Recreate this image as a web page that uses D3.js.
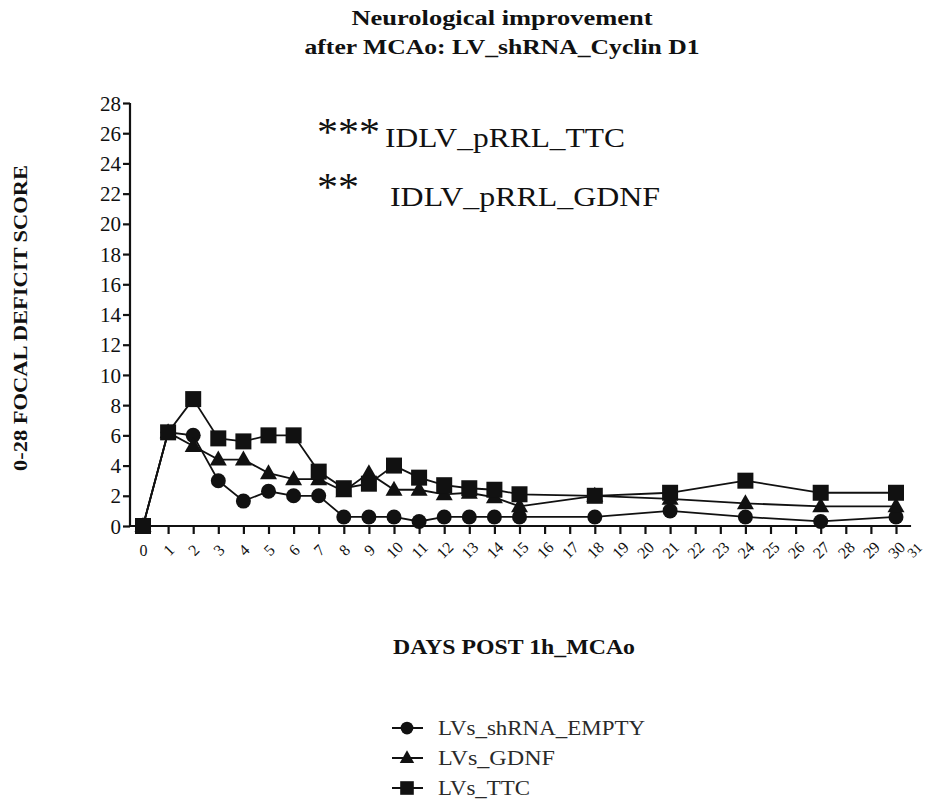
<!DOCTYPE html>
<html>
<head>
<meta charset="utf-8">
<script src="https://cdn.jsdelivr.net/npm/d3@7"></script>
<style>
  html, body { margin: 0; padding: 0; background: #fff; }
  svg { display: block; font-family: "Liberation Serif", "DejaVu Serif", serif; }
</style>
</head>
<body>
<svg id="chart" width="926" height="801"></svg>
<script>
// Days after 1h MCAo at which the focal deficit score was recorded
const days = [0, 1, 2, 3, 4, 5, 6, 7, 8, 9, 10, 11, 12, 13, 14, 15, 18, 21, 24, 27, 30];

// Mean 0-28 focal deficit score per group
const emptyScores = [0, 6.2, 6.0, 3.0, 1.65, 2.3, 2.0, 2.0, 0.6, 0.6, 0.6, 0.3, 0.6, 0.6, 0.6, 0.6, 0.6, 1.0, 0.6, 0.3, 0.6];
const gdnfScores  = [0, 6.2, 5.3, 4.4, 4.4, 3.5, 3.1, 3.1, 2.3, 3.5, 2.4, 2.4, 2.1, 2.2, 1.9, 1.3, 2.0, 1.8, 1.5, 1.3, 1.3];
const ttcScores   = [0, 6.2, 8.4, 5.8, 5.6, 6.0, 6.0, 3.6, 2.5, 2.8, 4.0, 3.2, 2.7, 2.5, 2.4, 2.1, 2.0, 2.2, 3.0, 2.2, 2.2];

const seriesNames = ["LVs_shRNA_EMPTY", "LVs_GDNF", "LVs_TTC"];
const seriesShapes = ["circle", "triangle", "square"];

const yTicks = d3.range(0, 29, 2);
const xTicks = d3.range(0, 32, 1);

const titleLines = ["Neurological improvement", "after MCAo: LV_shRNA_Cyclin D1"];
const notes = [
  { stars: "***", label: "IDLV_pRRL_TTC" },
  { stars: "**", label: "IDLV_pRRL_GDNF" }
];

const series = seriesNames.map((name, i) => ({
  name,
  shape: seriesShapes[i],
  values: [emptyScores, gdnfScores, ttcScores][i].map((v, j) => ({ day: days[j], score: v }))
}));

const svg = d3.select("#chart");
const ink = "#111";

const x = d3.scaleLinear().domain([0, 30]).range([143, 896]);
const y = d3.scaleLinear().domain([0, 28]).range([526, 103]);

// Fit a text element to a given width, stretching the glyphs
function fit(sel, w) {
  return sel.attr("textLength", w).attr("lengthAdjust", "spacingAndGlyphs");
}

// Marker shapes
function marker(sel, shape, s) {
  if (shape === "circle") {
    sel.append("circle").attr("r", 7.5 * s).attr("fill", ink);
  } else if (shape === "square") {
    sel.append("rect").attr("x", -8 * s).attr("y", -8 * s)
      .attr("width", 16 * s).attr("height", 16 * s).attr("fill", ink);
  } else {
    const h = 15 * s, w = 17 * s;
    sel.append("path")
      .attr("d", `M0,${-h * 0.6}L${w / 2},${h * 0.4}L${-w / 2},${h * 0.4}Z`)
      .attr("fill", ink);
  }
}

// Title
const titleWidths = [301, 395];
titleLines.forEach((t, i) => {
  fit(svg.append("text")
    .attr("x", 502).attr("y", 25 + i * 29).attr("text-anchor", "middle")
    .attr("font-weight", "bold").attr("font-size", 21).attr("fill", ink)
    .text(t), titleWidths[i]);
});

// Y axis
const yAxis = d3.axisLeft(y).tickValues(yTicks).tickSize(7).tickPadding(2);
const gy = svg.append("g").attr("transform", `translate(130,0)`).call(yAxis);
gy.select(".domain").attr("stroke", ink).attr("stroke-width", 2.2)
  .attr("d", `M0,${y(28)}V${y(0) + 1}`);
gy.selectAll(".tick line").attr("stroke", ink).attr("stroke-width", 2.2);
gy.selectAll(".tick text").attr("font-size", 21).attr("fill", ink)
  .attr("font-family", "Liberation Serif").attr("dy", "0.34em");

// X axis
const xAxis = d3.axisBottom(x).tickValues(xTicks).tickSize(8).tickPadding(12);
const gx = svg.append("g").attr("transform", `translate(0,${y(0)})`).call(xAxis);
gx.select(".domain").attr("stroke", ink).attr("stroke-width", 2.2)
  .attr("d", `M${x(-0.52)},0H${x(30.6)}`);
gx.selectAll(".tick line").attr("stroke", ink).attr("stroke-width", 2.2)
  .attr("display", d => (d > 30 ? "none" : null));
gx.selectAll(".tick text")
  .attr("font-size", d => (d > 30 ? 14 : 16)).attr("fill", ink).attr("font-family", "Liberation Serif")
  .attr("text-anchor", "middle").attr("dy", "0.35em").attr("y", 0)
  .attr("transform", d => {
    const shift = d > 30 ? -7 : 0;
    return d === 0 ? "translate(0,24)" : `translate(${shift},24) rotate(-45)`;
  });

// Axis titles
fit(svg.append("text")
  .attr("transform", "translate(27,318) rotate(-90)")
  .attr("text-anchor", "middle").attr("font-weight", "bold")
  .attr("font-size", 18).attr("fill", ink)
  .text("0-28 FOCAL DEFICIT SCORE"), 306);

fit(svg.append("text")
  .attr("x", 514).attr("y", 654).attr("text-anchor", "middle")
  .attr("font-weight", "bold").attr("font-size", 21).attr("fill", ink)
  .text("DAYS POST 1h_MCAo"), 242);

// Significance notes
const noteG = svg.append("g");
fit(noteG.append("text").attr("x", 317).attr("y", 145).attr("font-size", 40).attr("fill", ink).text(notes[0].stars), 63);
fit(noteG.append("text").attr("x", 385).attr("y", 147).attr("font-size", 28).attr("fill", ink).text(notes[0].label), 240);
fit(noteG.append("text").attr("x", 317).attr("y", 200).attr("font-size", 40).attr("fill", ink).text(notes[1].stars), 42);
fit(noteG.append("text").attr("x", 390).attr("y", 206).attr("font-size", 28).attr("fill", ink).text(notes[1].label), 270);

// Series lines and markers
const line = d3.line().x(d => x(d.day)).y(d => y(d.score));
series.forEach(s => {
  const g = svg.append("g");
  g.append("path").datum(s.values).attr("d", line)
    .attr("fill", "none").attr("stroke", ink).attr("stroke-width", 1.8);
  g.selectAll("g.pt").data(s.values).join("g").attr("class", "pt")
    .attr("transform", d => `translate(${x(d.day)},${y(d.score)})`)
    .each(function () { marker(d3.select(this), s.shape, 1); });
});

// Legend
const legendWidths = [207, 117, 92];
const legend = svg.append("g");
series.forEach((s, i) => {
  const row = legend.append("g").attr("transform", `translate(407,${728 + i * 30})`);
  row.append("line").attr("x1", -15).attr("x2", 16).attr("stroke", ink).attr("stroke-width", 2);
  marker(row, s.shape, 0.85);
  fit(row.append("text").attr("x", 31).attr("y", 7).attr("font-size", 21).attr("fill", "#2a2a2a")
    .text(s.name), legendWidths[i]);
});
</script>
</body>
</html>
